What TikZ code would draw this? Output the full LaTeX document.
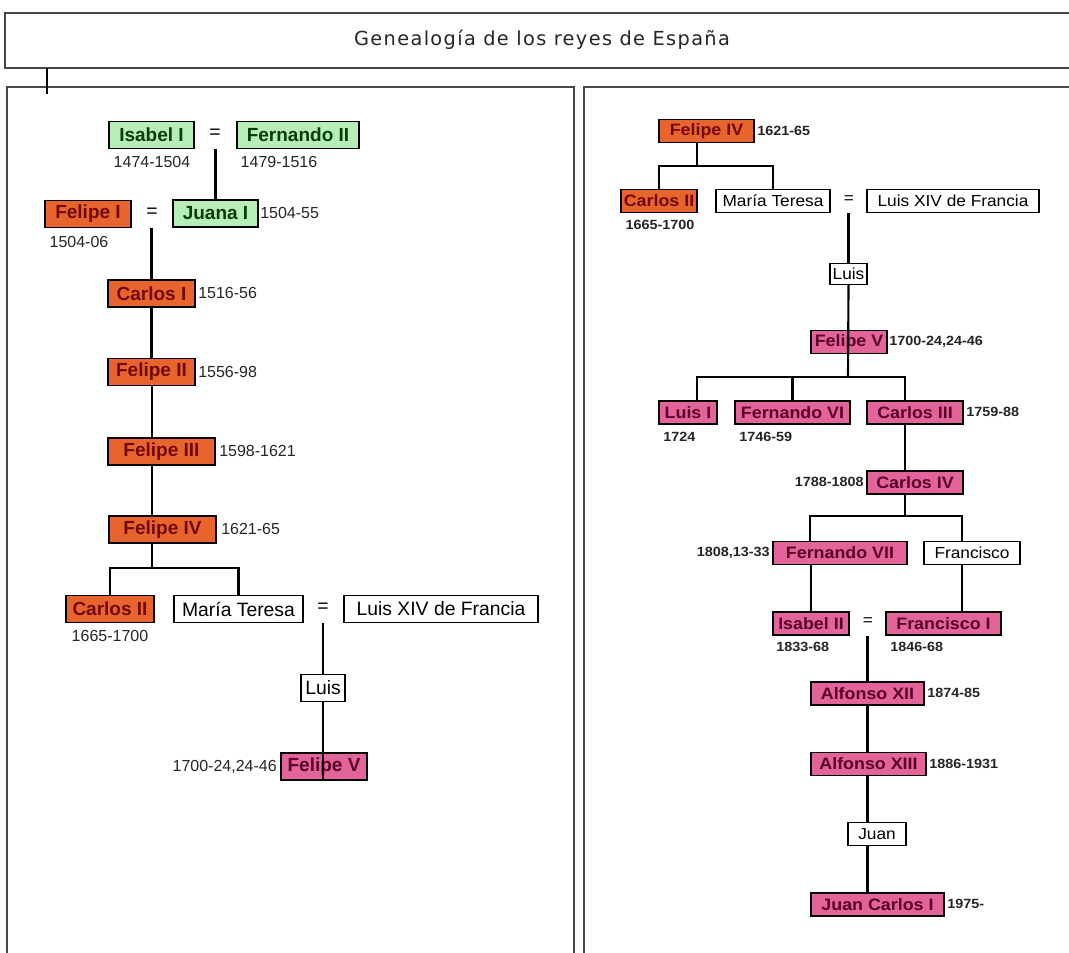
\documentclass[tikz,border=0pt]{standalone}
\usepackage{fontspec}
\setmainfont{Liberation Sans}
\newfontfamily\rfont[FakeStretch=1.08]{Liberation Sans}
\newfontfamily\titlefont[LetterSpace=7]{DejaVu Sans}
\definecolor{orng}{RGB}{232,100,45}
\definecolor{orngtxt}{RGB}{115,10,10}
\definecolor{grn}{RGB}{182,238,182}
\definecolor{grntxt}{RGB}{10,60,10}
\definecolor{pnk}{RGB}{226,100,155}
\definecolor{pnktxt}{RGB}{90,0,40}
\definecolor{frame}{RGB}{70,70,70}
\newcommand\LBold{\fontsize{14.25}{16}\selectfont\bfseries}
\newcommand\LReg{\fontsize{14.5}{16}\selectfont}
\newcommand\LDate{\fontsize{12}{14}\selectfont}
\newcommand\RBold{\rfont\fontsize{12.4}{14}\selectfont\bfseries}
\newcommand\RReg{\rfont\fontsize{12}{14}\selectfont}
\newcommand\RDate{\rfont\fontsize{10}{12}\selectfont\bfseries}
\begin{document}
\begin{tikzpicture}[x=0.75pt,y=-0.75pt,
  box/.style={draw=black, line width=1.1pt, inner sep=0pt, anchor=center},
  lg/.style={box, fill=grn, text=grntxt, font=\LBold, minimum height=27*0.75pt, minimum width=#1*0.75pt},
  lo/.style={box, fill=orng, text=orngtxt, font=\LBold, minimum height=27*0.75pt, minimum width=#1*0.75pt},
  lp/.style={box, fill=pnk, text=pnktxt, font=\LBold, minimum height=27*0.75pt, minimum width=#1*0.75pt},
  lw/.style={box, fill=white, text=black, font=\LReg, minimum height=27*0.75pt, minimum width=#1*0.75pt},
  ro/.style={box, fill=orng, text=orngtxt, font=\RBold, minimum height=23*0.75pt, minimum width=#1*0.75pt},
  rp/.style={box, fill=pnk, text=pnktxt, font=\RBold, minimum height=23*0.75pt, minimum width=#1*0.75pt},
  rw/.style={box, fill=white, text=black, font=\RReg, minimum height=23*0.75pt, minimum width=#1*0.75pt},
  ldate/.style={font=\LDate, inner sep=0pt, text=black!85},
  rdate/.style={font=\RDate, inner sep=0pt, text=black!85},
  eqs/.style={font=\LReg, inner sep=0pt},
  reqs/.style={font=\RReg, inner sep=0pt},
  conn/.style={line width=1.6pt, black},
  frm/.style={line width=1.4pt, draw=frame}]
\useasboundingbox (0,0) rectangle (1069,952);
\fill[white] (0,0) rectangle (1069,952);
% frames
\draw[frm] (5,13) rectangle (1080,68);
\node[font=\titlefont\fontsize{14.5}{17}\selectfont, text=black!85] (title) at (542,40) {Genealogía de los reyes de España};
\draw[frm] (7,87) rectangle (574,965);
\draw[frm] (584,87) rectangle (1080,965);
\coordinate (tk1) at (47,68);
\coordinate (tk2) at (47,94);
\draw[line width=1.4pt] (tk1) -- (tk2);

% ---------------- left panel ----------------
\node[lg=85] (isa) at (151.5,135) {Isabel I};
\node[eqs] (eq1) at (215,134) {=};
\node[lg=122] (fer) at (298,135) {Fernando II};
\node[ldate] (disa) at (152,162) {1474-1504};
\node[ldate] (dfer) at (279,162) {1479-1516};
\node[lo=86] (fel1) at (88,214) {Felipe I};
\node[eqs] (eq2) at (152,213) {=};
\node[lg=85] (jua) at (215.5,213.5) {Juana I};
\node[ldate, anchor=west] (djua) at (260,213) {1504-55};
\node[ldate] (dfel1) at (79,242) {1504-06};
\node[lo=87] (car1) at (151.5,293.5) {Carlos I};
\node[ldate, anchor=west] (dcar1) at (198,293) {1516-56};
\node[lo=87] (fel2) at (151.5,372) {Felipe II};
\node[ldate, anchor=west] (dfel2) at (198,372) {1556-98};
\node[lo=107] (fel3) at (161.5,451.5) {Felipe III};
\node[ldate, anchor=west] (dfel3) at (219,451) {1598-1621};
\node[lo=107] (fel4) at (162.5,529.5) {Felipe IV};
\node[ldate, anchor=west] (dfel4) at (221,529) {1621-65};
\node[lo=88] (car2) at (110,609) {Carlos II};
\node[ldate] (dcar2) at (110,636) {1665-1700};
\node[lw=129] (mt) at (238.5,609) {María Teresa};
\node[eqs] (eq3) at (323,608) {=};
\node[lw=194] (lxiv) at (441,609) {Luis XIV de Francia};
\node[lw=44] (luis) at (323,688) {Luis};
\node[lp=86] (fel5) at (324,766.5) {Felipe V};
\node[ldate, anchor=east] (dfel5) at (277,767) {1700-24,24-46};

\coordinate (chx) at (152,0);
\coordinate (lj1) at (152,568);
\draw[conn] (jua.north) -- (jua.north |- isa.south);
\draw[conn] (car1.north) -- (car1.north |- fel1.south);
\draw[conn] (car1.south) -- (car1.south |- fel2.north);
\draw[conn] (chx |- fel2.south) -- (chx |- fel3.north);
\draw[conn] (chx |- fel3.south) -- (chx |- fel4.north);
\draw[conn] (chx |- fel4.south) -- (lj1);
\draw[conn] (car2.north) -- (car2.north |- lj1) -- (mt.north |- lj1) -- (mt.north);
\draw[conn] (luis.north) -- (luis.north |- mt.south);
\draw[conn] (luis.south) -- (luis.south |- fel5.south);

% ---------------- right panel ----------------
\node[ro=95] (rf4) at (706.5,131) {Felipe IV};
\node[rdate, anchor=west] (drf4) at (757,131) {1621-65};
\node[ro=76] (rc2) at (659,201) {Carlos II};
\node[rdate] (drc2) at (660,225) {1665-1700};
\node[rw=114] (rmt) at (773,201) {María Teresa};
\node[reqs] (req) at (849,200) {=};
\node[rw=172] (rlx) at (953,201) {Luis XIV de Francia};
\node[rw=37, minimum height=21*0.75pt] (rluis) at (848.5,274) {Luis};
\node[rp=76] (rf5) at (849,342) {Felipe V};
\node[rdate, anchor=west] (drf5) at (889,342) {1700-24,24-46};
\node[rp=58] (rl1) at (688,412.5) {Luis I};
\node[rdate, anchor=west] (drl1) at (663,437) {1724};
\node[rp=115] (rf6) at (792.5,412.5) {Fernando VI};
\node[rdate, anchor=west] (drf6) at (739,437) {1746-59};
\node[rp=96] (rc3) at (915,412.5) {Carlos III};
\node[rdate, anchor=west] (drc3) at (966,412) {1759-88};
\node[rp=96] (rc4) at (915,482.5) {Carlos IV};
\node[rdate, anchor=east] (drc4) at (864,482) {1788-1808};
\node[rp=134] (rf7) at (840,553) {Fernando VII};
\node[rdate, anchor=east] (drf7) at (770,553) {1808,13-33};
\node[rw=96] (rfr) at (972,553) {Francisco};
\node[rp=76] (ri2) at (811,623.5) {Isabel II};
\node[reqs] (req2) at (868,622) {=};
\node[rp=115] (rfi) at (943.5,623.5) {Francisco I};
\node[rdate, anchor=west] (dri2) at (776,647) {1833-68};
\node[rdate, anchor=west] (drfi) at (890,647) {1846-68};
\node[rp=113] (ra12) at (867.5,693.5) {Alfonso XII};
\node[rdate, anchor=west] (dra12) at (927,693) {1874-85};
\node[rp=115] (ra13) at (868.5,764) {Alfonso XIII};
\node[rdate, anchor=west] (dra13) at (929,764) {1886-1931};
\node[rw=58] (rju) at (877,834) {Juan};
\node[rp=133] (rjc) at (877.5,904.5) {Juan Carlos I};
\node[rdate, anchor=west] (drjc) at (947,904) {1975-};

\coordinate (rj1) at (697,166);
\coordinate (rj2) at (848,377);
\coordinate (ra) at (697,377);
\coordinate (rc) at (905,377);
\coordinate (rj3) at (905,516);
\coordinate (rd) at (810,516);
\coordinate (re) at (962,516);
\coordinate (rv) at (867.5,0);
\draw[conn] (rj1 |- rf4.south) -- (rj1);
\draw[conn] (rc2.north) -- (rc2.north |- rj1) -- (rmt.north |- rj1) -- (rmt.north);
\draw[conn] (rluis.north) -- (rluis.north |- rmt.south);
\draw[conn] (rluis.south) -- (rj2);
\draw[conn] (ra |- rl1.north) -- (ra) -- (rc) -- (rc |- rc3.north);
\draw[conn] (rf6.north) -- (rf6.north |- rj2);
\draw[conn] (rc |- rc3.south) -- (rc |- rc4.north);
\draw[conn] (rc |- rc4.south) -- (rj3);
\draw[conn] (rd |- rf7.north) -- (rd) -- (re) -- (re |- rfr.north);
\draw[conn] (ri2.north) -- (ri2.north |- rf7.south);
\draw[conn] (re |- rfr.south) -- (re |- rfi.north);
\draw[conn] (ra12.north) -- (ra12.north |- ri2.south);
\draw[conn] (rv |- ra12.south) -- (rv |- ra13.north);
\draw[conn] (rv |- ra13.south) -- (rv |- rju.north);
\draw[conn] (rv |- rju.south) -- (rv |- rjc.north);
\end{tikzpicture}
\end{document}
